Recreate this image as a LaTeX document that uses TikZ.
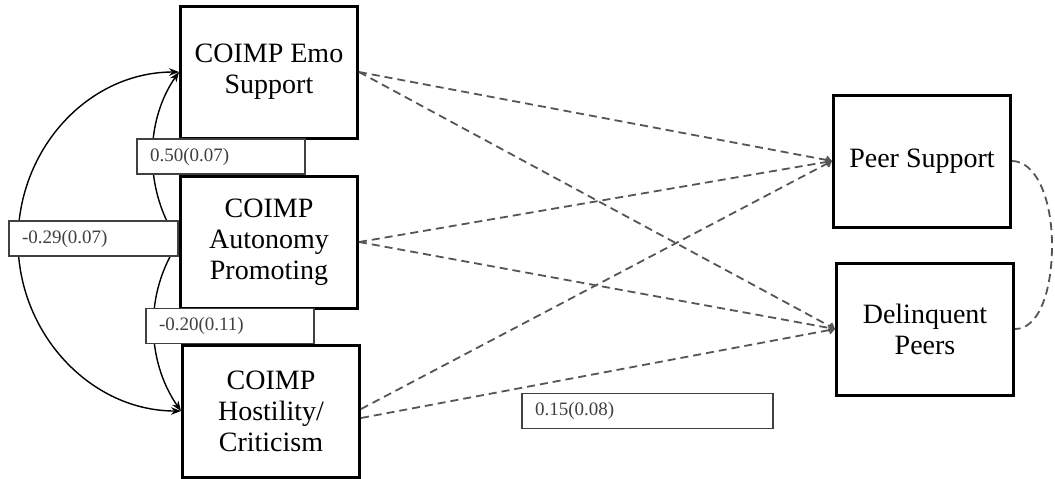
\documentclass[tikz,border=0pt]{standalone}
\usepackage{fontspec}
\setmainfont{Liberation Serif}
\definecolor{pGray}{HTML}{555555}
\definecolor{eGray}{HTML}{404040}
\usetikzlibrary{arrows.meta, positioning}

\begin{document}
\begin{tikzpicture}[x=0.5pt, y=-0.5pt,
  var/.style={draw=black, line width=1.5pt, minimum width=88.5pt,
              minimum height=66pt, inner sep=2pt, align=center,
              font=\fontsize{14}{15.5}\selectfont},
  est/.style={draw=eGray, line width=0.9pt, fill=white, text=eGray,
              minimum height=17.5pt, inner xsep=6.5pt, inner ysep=0pt,
              text width=#1, align=left, font=\fontsize{9.5}{11}\selectfont},
  reg/.style={draw=pGray, line width=0.9pt, dash pattern=on 4pt off 2.5pt,
              -{Straight Barb[length=2.2pt, width=3.6pt]}},
  cov/.style={draw=black, line width=0.7pt}]
  \useasboundingbox (0,0) rectangle (1055,478);

  \node[var] (emo)    at (269, 72)  {COIMP Emo\\Support};
  \node[var] (auto)   at (269,242)  {COIMP\\Autonomy\\Promoting};
  \node[var] (host)   at (271,411)  {COIMP\\Hostility/\\Criticism};
  \node[var] (peer)   at (922,161)  {Peer Support};
  \node[var] (delinq) at (925,329)  {Delinquent\\Peers};

  % paths to peer outcomes
  \draw[reg] (emo.east) -- (peer.west);
  \draw[reg] (emo.east) -- (delinq.west);
  \draw[reg] (auto.east) -- (peer.west);
  \draw[reg] (auto.east) -- (delinq.west);
  \draw[reg] ([yshift=1pt]host.east) -- (peer.west);
  \draw[reg] ([yshift=-3.5pt]host.east) -- (delinq.west);
  \draw[reg, -] (peer.east)
    .. controls +(24,0) and +(0,-46) .. (1052,245)
    .. controls +(0,46) and +(24,0) .. (delinq.east);

  % covariances
  \draw[cov, {Stealth[length=5pt]}-{Stealth[length=5pt]}] (emo.west)
    .. controls +(-90,0) and +(0,-93) .. (18,241)
    .. controls +(0,93) and +(-90,0) .. (host.west);
  \draw[cov, {Stealth[length=5pt]}-] (emo.west)
    .. controls +(-35,50) and +(-35,-50) .. (auto.west);
  \draw[cov, -{Stealth[length=5pt]}] (auto.west)
    .. controls +(-35,50) and +(-35,-50) .. (host.west);

  \node[est=71pt]    (e050) at (221,156.5) {0.50(0.07)};
  \node[est=71.5pt]  (e029) at (93.5,238.5) {-0.29(0.07)};
  \node[est=71pt]    (e020) at (230,326)   {-0.20(0.11)};
  \node[est=112.5pt] (e015) at (647.5,411) {0.15(0.08)};
\end{tikzpicture}
\end{document}
